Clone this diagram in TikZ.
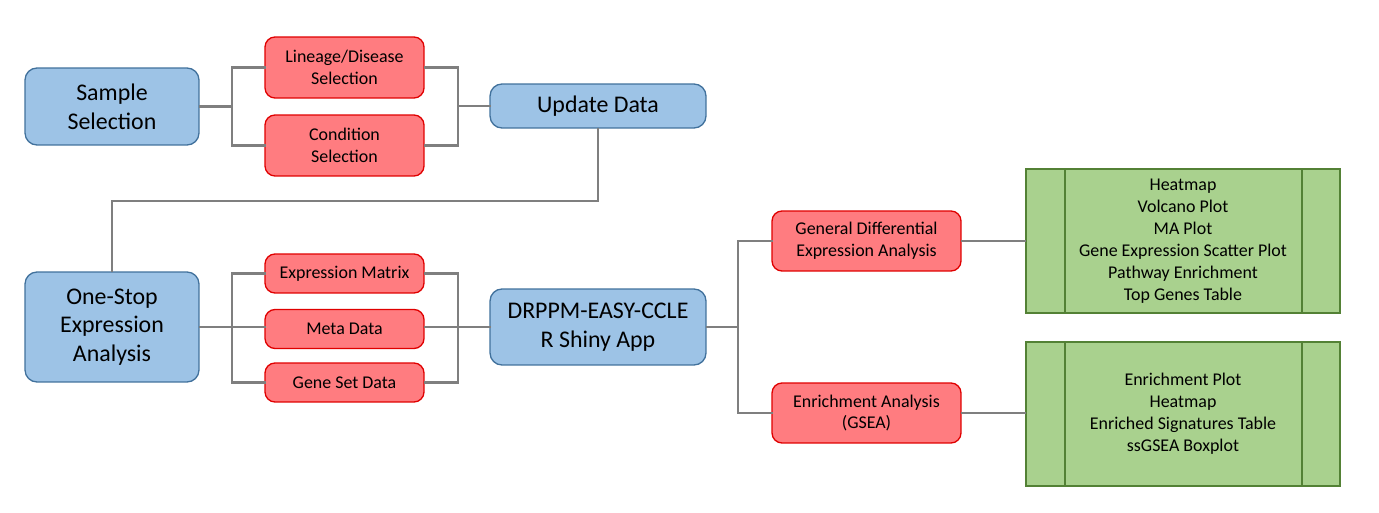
\documentclass[tikz,border=0pt]{standalone}
\usepackage{fontspec}
\setmainfont{Carlito}
\usetikzlibrary{positioning}
\definecolor{bluefill}{HTML}{9DC3E6}
\definecolor{blueline}{HTML}{41719C}
\definecolor{redfill}{HTML}{FF7C80}
\definecolor{redline}{HTML}{E00000}
\definecolor{greenfill}{HTML}{A9D18E}
\definecolor{greenline}{HTML}{538135}
\definecolor{linkgray}{HTML}{7F7F7F}
\begin{document}
\begin{tikzpicture}[
    x=0.02cm, y=-0.02cm,
    blueproc/.style={rectangle, rounded corners=0.24cm, draw=blueline, line width=0.75pt, fill=bluefill, align=center, inner sep=0pt, font=\fontsize{13.6}{16.4}\selectfont},
    redproc/.style={rectangle, rounded corners=0.2cm, draw=redline, line width=0.75pt, fill=redfill, align=center, inner sep=0pt, minimum width=3.18cm, font=\fontsize{10.2}{12.5}\selectfont},
    outbox/.style={rectangle, draw=greenline, line width=1.1pt, fill=greenfill, align=center, inner sep=0pt, minimum width=6.28cm, minimum height=2.88cm, font=\fontsize{10.2}{12.5}\selectfont},
    link/.style={draw=linkgray, line width=1.3pt, line cap=rect}
]
    \useasboundingbox (0,0) rectangle (1379,513);

    % Sample selection branch
    \node[blueproc, minimum width=3.48cm, minimum height=1.54cm] (sample) at (112,106.5) {Sample\\Selection};
    \node[redproc, minimum height=1.22cm] (lineage) at (344.5,67.5) {Lineage/Disease\\Selection};
    \node[redproc, minimum height=1.22cm] (cond) at (344.5,145.5) {Condition\\Selection};
    \node[blueproc, minimum width=4.32cm, minimum height=0.88cm] (update) at (598,106) {Update Data};

    % One-stop branch
    \node[blueproc, minimum width=3.48cm, minimum height=2.2cm] (onestop) at (112,327) {One-Stop\\Expression\\Analysis};
    \node[redproc, minimum height=0.78cm] (exprmat) at (344.5,273.5) {Expression Matrix};
    \node[redproc, minimum height=0.78cm] (meta) at (344.5,329) {Meta Data};
    \node[redproc, minimum height=0.78cm] (geneset) at (344.5,382.5) {Gene Set Data};
    \node[blueproc, minimum width=4.32cm, minimum height=1.52cm] (app) at (598,327) {DRPPM-EASY-CCLE\\R Shiny App};

    % Analyses
    \node[redproc, minimum width=3.78cm, minimum height=1.2cm] (gde) at (866.5,241) {General Differential\\Expression Analysis};
    \node[redproc, minimum width=3.78cm, minimum height=1.2cm] (gsea) at (866.5,413) {Enrichment Analysis\\(GSEA)};

    % Outputs
    \node[outbox] (gdeout) at (1183,241) {Heatmap\\Volcano Plot\\MA Plot\\Gene Expression Scatter Plot\\Pathway Enrichment\\Top Genes Table};
    \node[outbox] (gseaout) at (1183,414) {Enrichment Plot\\Heatmap\\Enriched Signatures Table\\ssGSEA Boxplot};
    \foreach \b in {gdeout, gseaout} {
        \draw[greenline, line width=1.1pt] ([xshift=0.8cm]\b.north west) -- ([xshift=0.8cm]\b.south west);
        \draw[greenline, line width=1.1pt] ([xshift=-0.78cm]\b.north east) -- ([xshift=-0.78cm]\b.south east);
    }

    % Junctions
    \coordinate (j1) at (232,106.5);
    \coordinate (j2) at (458,106);
    \coordinate (j3) at (112,201);
    \coordinate (j4) at (232,327);
    \coordinate (j5) at (458,327);
    \coordinate (j6) at (738,327);

    % Links: sample selection
    \draw[link] (sample.east) -- (j1);
    \draw[link] (j1) |- (lineage.west);
    \draw[link] (j1) |- (cond.west);
    \draw[link] (lineage.east) -| (j2);
    \draw[link] (cond.east) -| (j2);
    \draw[link] (j2) -- (update.west);
    \draw[link] (update.south) |- (j3) -- (onestop.north);

    % Links: one-stop analysis
    \draw[link] (onestop.east) -- (j4);
    \draw[link] (j4) |- (exprmat.west);
    \draw[link] (j4) -- (meta.west |- j4);
    \draw[link] (j4) |- (geneset.west);
    \draw[link] (exprmat.east) -| (j5);
    \draw[link] (geneset.east) -| (j5);
    \draw[link] (meta.east |- j5) -- (app.west);
    \draw[link] (app.east) -- (j6);
    \draw[link] (j6) |- (gde.west);
    \draw[link] (j6) |- (gsea.west);
    \draw[link] (gde.east) -- (gdeout.west |- gde.east);
    \draw[link] (gsea.east) -- (gseaout.west |- gsea.east);

\end{tikzpicture}
\end{document}
